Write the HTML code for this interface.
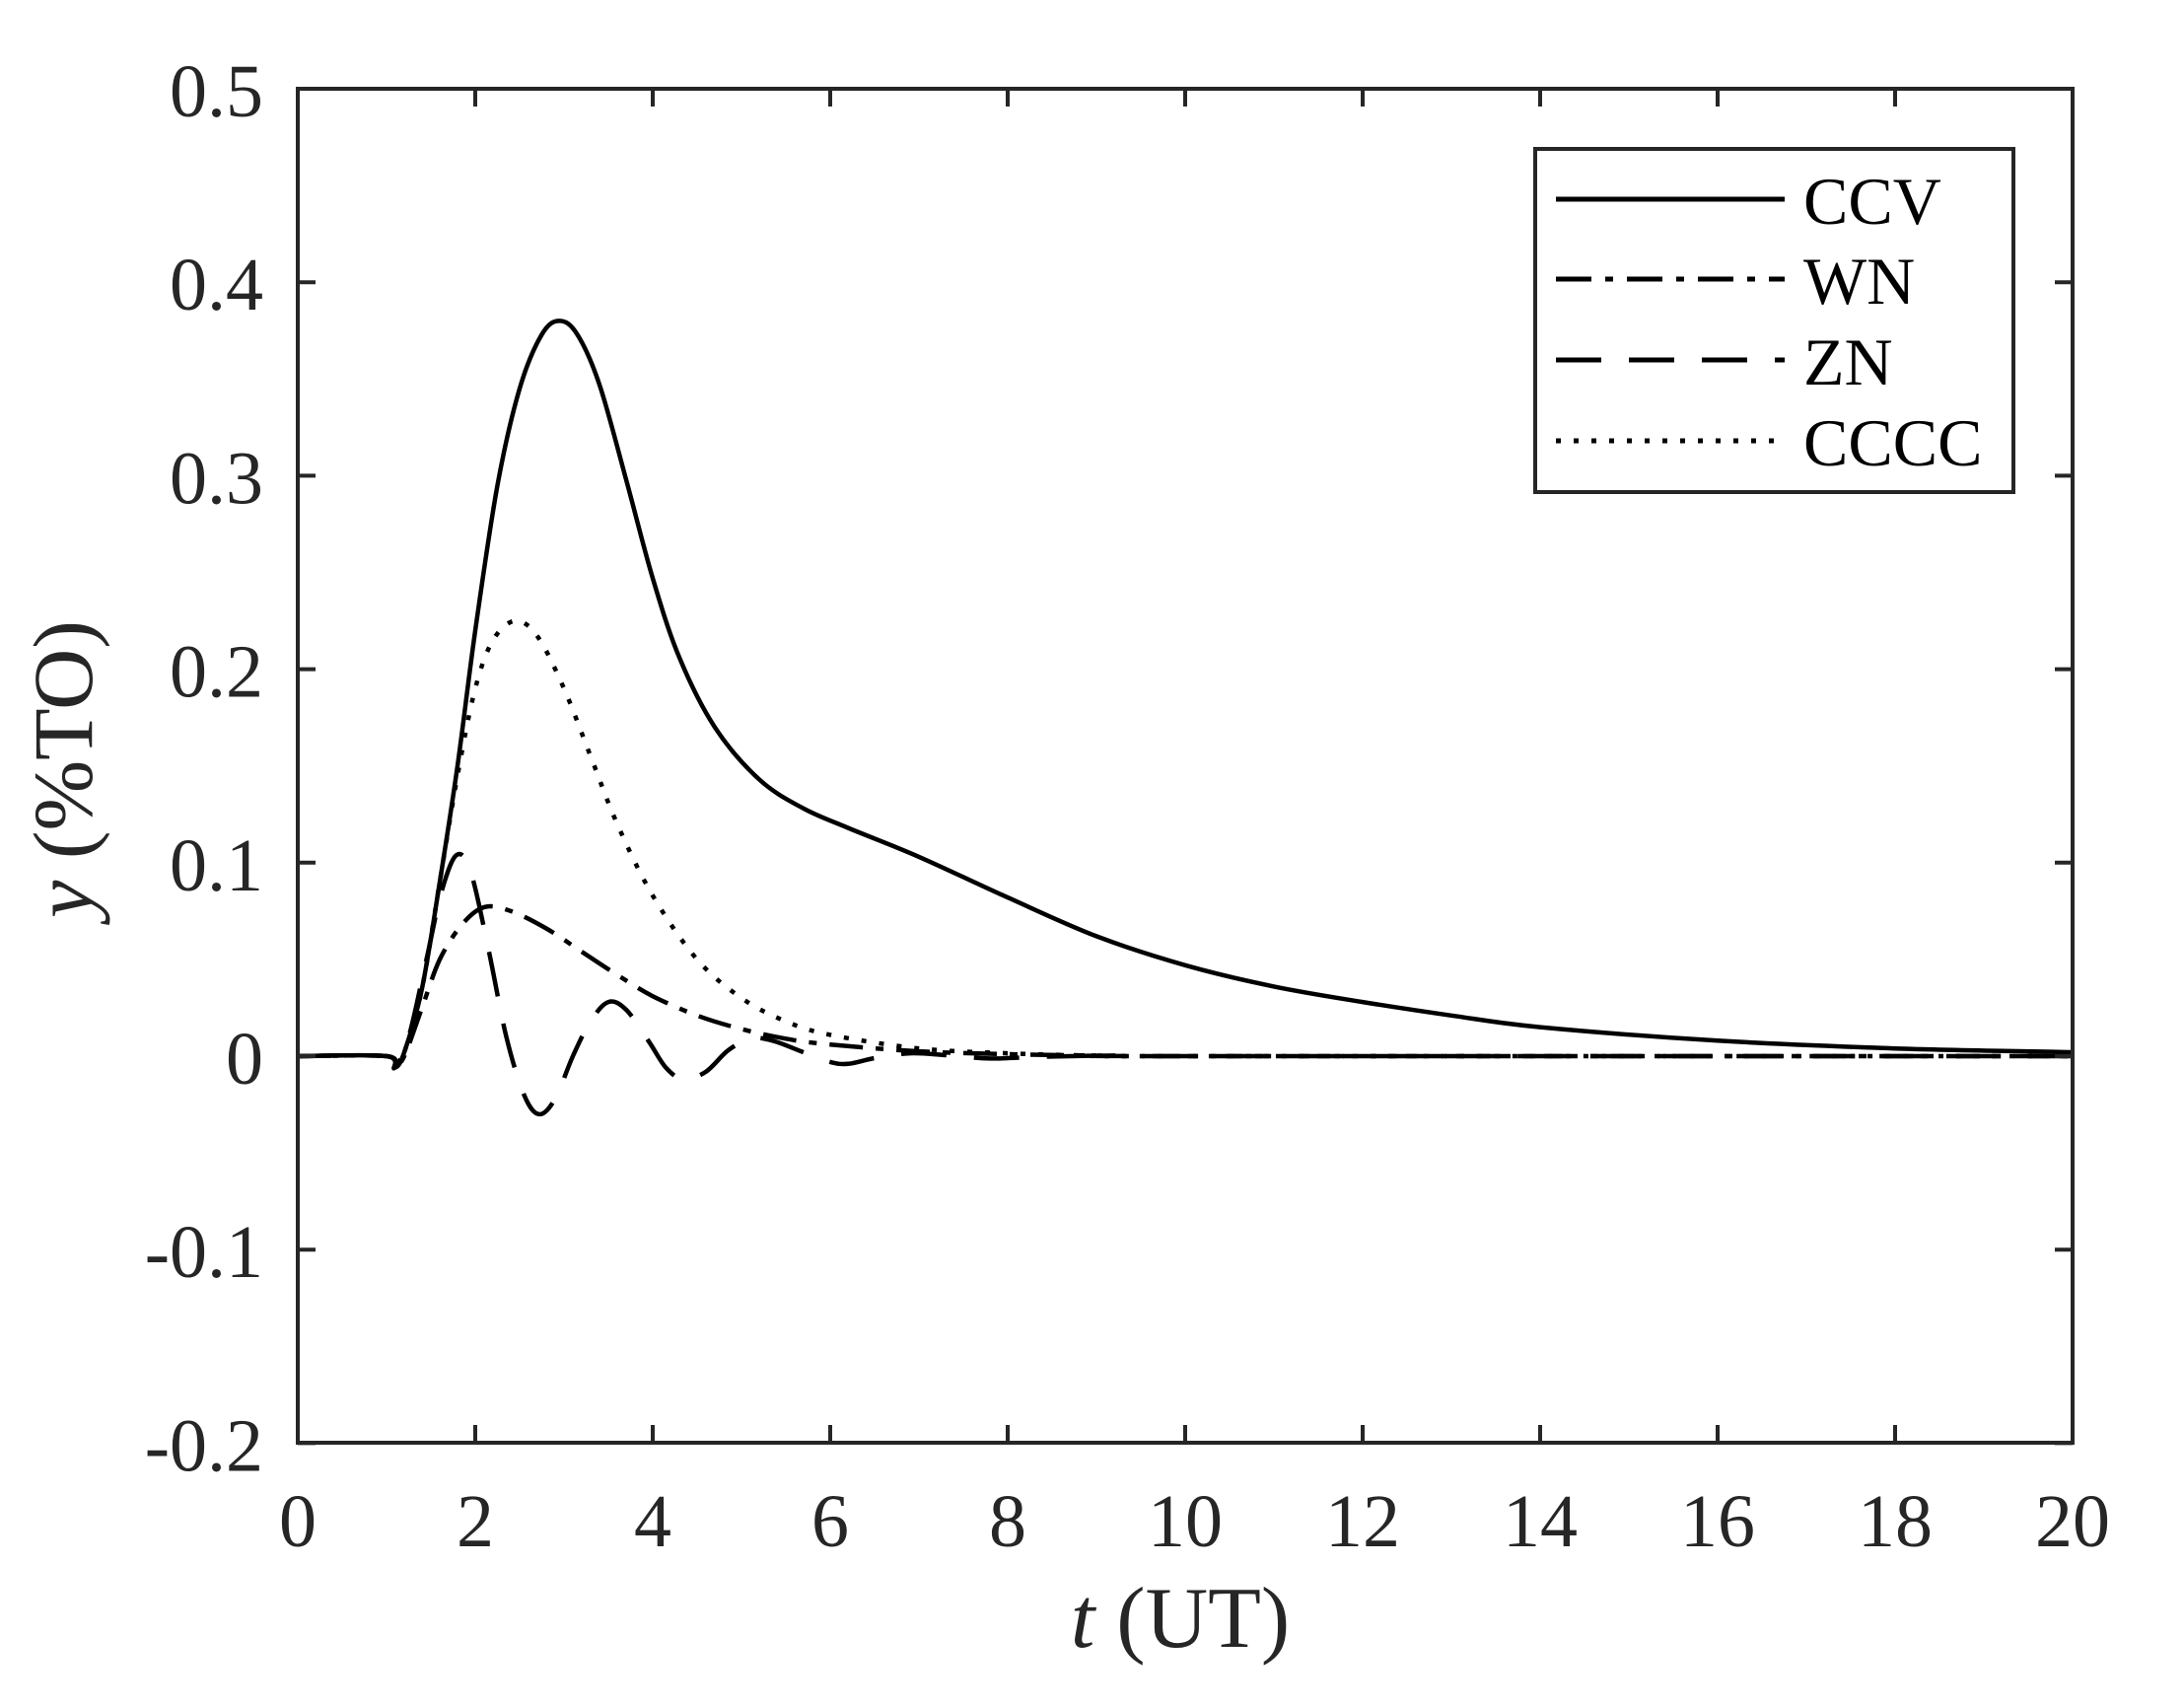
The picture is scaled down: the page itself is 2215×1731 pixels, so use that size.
<!DOCTYPE html>
<html><head><meta charset="utf-8"><style>
html,body{margin:0;padding:0;background:#fff}
svg{display:block}
text{font-family:"Liberation Serif","Times New Roman",serif;fill:#262626}
</style></head><body>
<svg id="s" width="2215" height="1731" viewBox="0 0 2215 1731" xmlns="http://www.w3.org/2000/svg" font-family="Liberation Serif, serif">
<rect width="2215" height="1731" fill="#fff"/>
<g id="curves" fill="none" stroke="#000" stroke-width="4.5" stroke-linejoin="round"></g>
<g id="axes" stroke="#262626" stroke-width="4" fill="none"></g>
<g id="labels" font-size="76"></g>
<text x="1197" y="1670" font-size="88" text-anchor="middle"><tspan font-style="italic">t</tspan> (UT)</text>
<text transform="translate(93,780) rotate(-90)" font-size="86" text-anchor="middle"><tspan font-style="italic">y</tspan> (%TO)</text>
<g>
<rect x="1557" y="151" width="485" height="348" fill="#fff" stroke="#262626" stroke-width="4"/>
<line x1="1578" y1="202" x2="1810" y2="202" stroke="#000" stroke-width="5"/>
<line x1="1578" y1="283" x2="1810" y2="283" stroke="#000" stroke-width="5" stroke-dasharray="36,14,8,14"/>
<line x1="1578" y1="365" x2="1810" y2="365" stroke="#000" stroke-width="5" stroke-dasharray="46,28"/>
<line x1="1578" y1="447" x2="1810" y2="447" stroke="#000" stroke-width="5" stroke-dasharray="5,13"/>
<text x="1829" y="227" font-size="68" style="fill:#000">CCV</text>
<text x="1829" y="308" font-size="68" style="fill:#000">WN</text>
<text x="1829" y="390" font-size="68" style="fill:#000">ZN</text>
<text x="1829" y="472" font-size="68" style="fill:#000">CCCC</text>
</g>
</svg>
<script>
var NS="http://www.w3.org/2000/svg";
function X(t){return 302+90*t;}
function Y(v){return 90+(0.5-v)*1962;}
function el(p,tag,a,txt){var e=document.createElementNS(NS,tag);for(var k in a)e.setAttribute(k,a[k]);if(txt!=null)e.textContent=txt;p.appendChild(e);return e;}
var ax=document.getElementById('axes'),lb=document.getElementById('labels');
el(ax,'rect',{x:302,y:90,width:1800,height:1373});
for(var i=0;i<=10;i++){var x=X(2*i);
 el(ax,'line',{x1:x,y1:1463,x2:x,y2:1445});el(ax,'line',{x1:x,y1:90,x2:x,y2:108});
 el(lb,'text',{x:x,y:1568,'text-anchor':'middle'},String(2*i));}
for(var j=0;j<=7;j++){var v=0.5-j*0.1;var y=Y(v);
 el(ax,'line',{x1:302,y1:y,x2:320,y2:y});el(ax,'line',{x1:2102,y1:y,x2:2084,y2:y});
 var s=Math.abs(v)<1e-9?'0':(v<0?'-':'')+Math.abs(v).toFixed(1);
 el(lb,'text',{x:267,y:y+28,'text-anchor':'end'},s);}
function path(pts){
 var P=pts.map(function(p){return [X(p[0]),Y(p[1])];});
 var d='M'+P[0][0]+','+P[0][1];
 for(var i=0;i<P.length-1;i++){var p0=P[Math.max(0,i-1)],p1=P[i],p2=P[i+1],p3=P[Math.min(P.length-1,i+2)];
  var c1=[p1[0]+(p2[0]-p0[0])/6,p1[1]+(p2[1]-p0[1])/6],c2=[p2[0]-(p3[0]-p1[0])/6,p2[1]-(p3[1]-p1[1])/6];
  d+='C'+c1[0].toFixed(1)+','+c1[1].toFixed(1)+' '+c2[0].toFixed(1)+','+c2[1].toFixed(1)+' '+p2[0].toFixed(1)+','+p2[1].toFixed(1);}
 return d;}
var g=document.getElementById('curves');
var ccv=[[0,0],[1.0,0],[1.09,-0.006],[1.2,0.002],[1.4,0.035],[1.6,0.09],[1.8,0.15],[2.0,0.22],[2.25,0.295],[2.5,0.345],[2.75,0.373],[2.95,0.38],[3.15,0.373],[3.4,0.347],[3.7,0.298],[4.0,0.247],[4.3,0.206],[4.7,0.17],[5.2,0.143],[5.7,0.128],[6.2,0.118],[7,0.103],[8,0.082],[9,0.062],[10,0.047],[11,0.036],[12,0.028],[13,0.021],[14,0.015],[16,0.008],[18,0.004],[20,0.002]];
var cccc=[[0,0],[1.0,0],[1.09,-0.005],[1.2,0.002],[1.4,0.035],[1.6,0.09],[1.8,0.145],[2.0,0.19],[2.2,0.215],[2.45,0.225],[2.7,0.217],[3.0,0.19],[3.3,0.155],[3.6,0.12],[4.0,0.083],[4.5,0.05],[5,0.03],[5.5,0.018],[6,0.011],[7,0.004],[8,0.0015],[9,0.0003],[10,0],[20,0]];
var wn=[[0,0],[1.0,0],[1.09,-0.005],[1.2,0.0],[1.4,0.025],[1.6,0.05],[1.85,0.068],[2.1,0.077],[2.4,0.075],[2.8,0.066],[3.2,0.054],[3.6,0.042],[4.0,0.031],[4.5,0.021],[5,0.014],[5.5,0.009],[6,0.006],[7,0.0025],[8,0.001],[9,0.0003],[10,0],[20,0]];
var zn=[[0,0],[1.0,0],[1.09,-0.006],[1.25,0.01],[1.45,0.05],[1.62,0.085],[1.79,0.104],[1.95,0.095],[2.15,0.055],[2.35,0.01],[2.55,-0.02],[2.72,-0.03],[2.9,-0.022],[3.1,0.0],[3.3,0.018],[3.5,0.028],[3.7,0.024],[3.95,0.008],[4.15,-0.006],[4.35,-0.012],[4.6,-0.008],[4.85,0.003],[5.1,0.009],[5.35,0.008],[5.7,0.002],[6.0,-0.003],[6.2,-0.004],[6.5,-0.001],[6.9,0.0015],[7.3,0.0005],[7.8,-0.0012],[8.4,-0.0003],[9.2,0.0003],[10,0],[20,0]];
el(g,'path',{d:path(ccv)});
el(g,'path',{d:path(cccc),'stroke-dasharray':'5,13'});
el(g,'path',{d:path(wn),'stroke-dasharray':'34,13,8,13'});
el(g,'path',{d:path(zn),'stroke-dasharray':'46,28'});
</script>
</body></html>
